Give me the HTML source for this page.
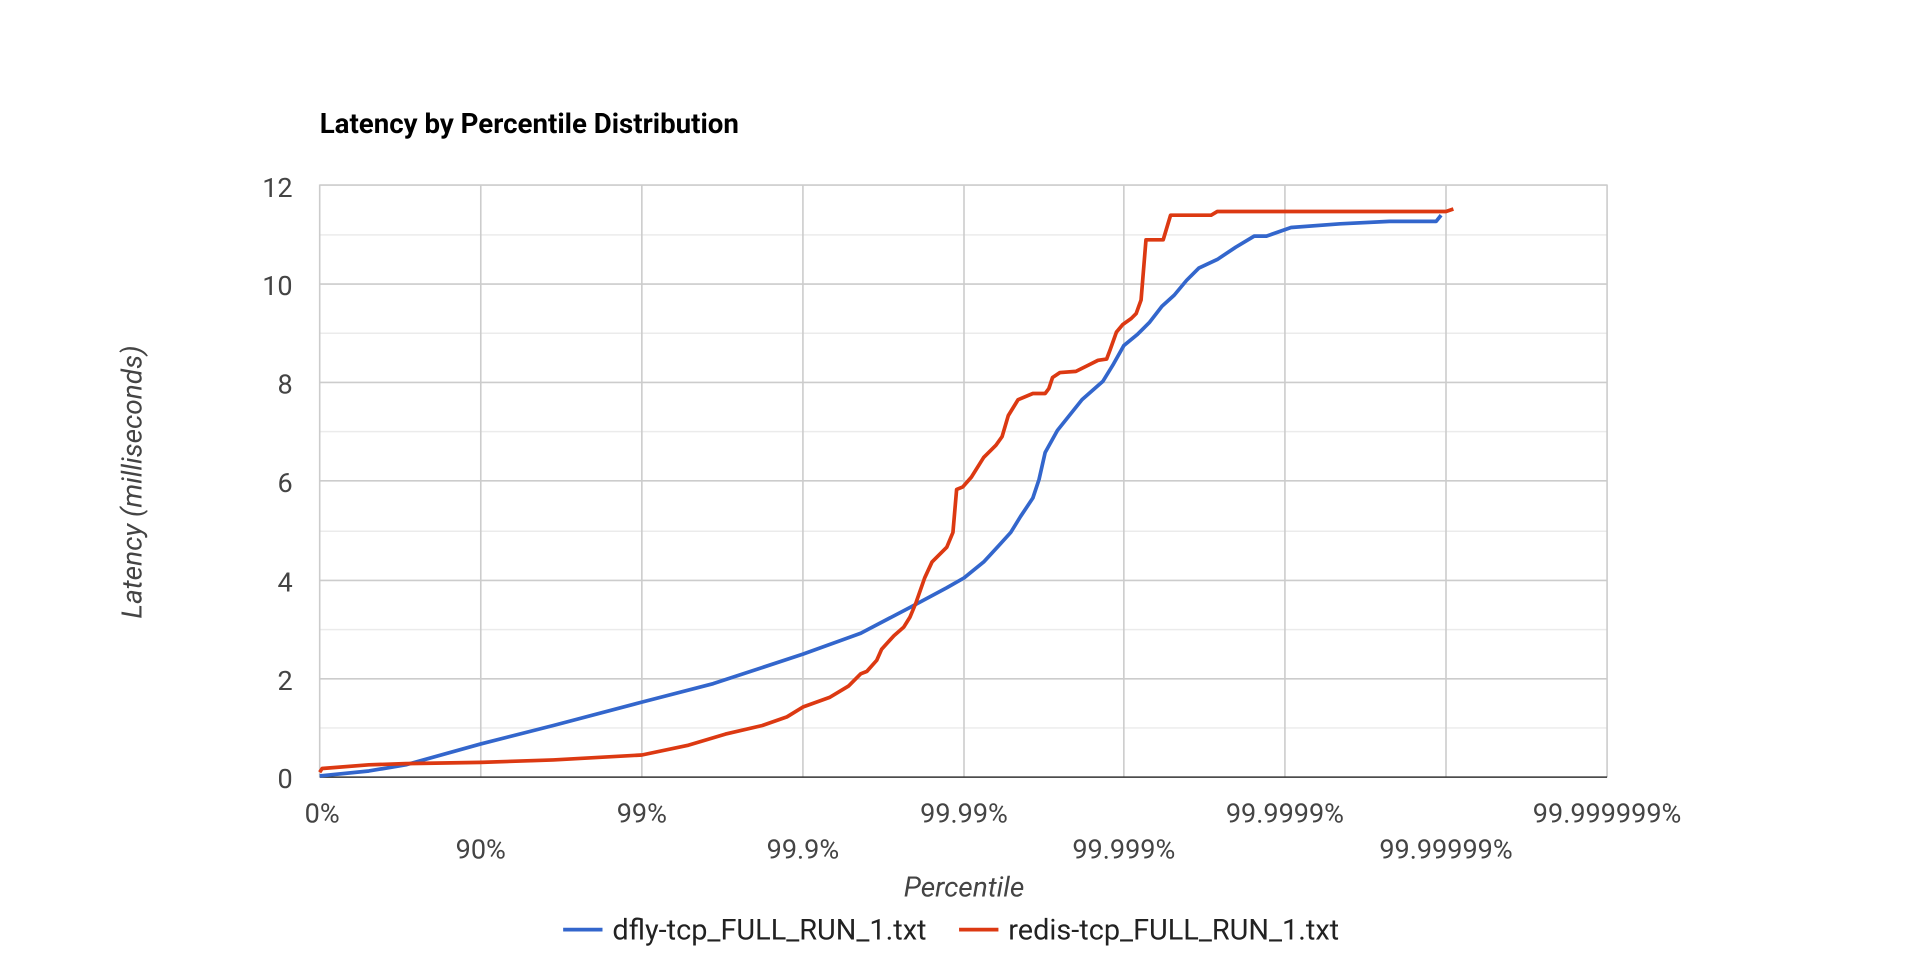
<!DOCTYPE html>
<html><head><meta charset="utf-8"><style>html,body{margin:0;padding:0;background:#fff;}svg{display:block}</style></head>
<body>
<svg width="1928" height="960" viewBox="0 0 1568 780.7" xmlns="http://www.w3.org/2000/svg" font-family="Roboto, 'Liberation Sans', Arial, sans-serif">
<rect width="1568" height="781" fill="#fff"/>
<text x="260" y="108" font-size="22.5" font-weight="bold" fill="#000">Latency by Percentile Distribution</text>
<g stroke="#ebebeb" stroke-width="1.2">
<line x1="260" x2="1307" y1="191" y2="191"/><line x1="260" x2="1307" y1="271" y2="271"/><line x1="260" x2="1307" y1="351" y2="351"/><line x1="260" x2="1307" y1="432" y2="432"/><line x1="260" x2="1307" y1="512" y2="512"/><line x1="260" x2="1307" y1="592" y2="592"/>
</g>
<g stroke="#cccccc" stroke-width="1.3">
<line x1="260" x2="1307" y1="150.5" y2="150.5"/><line x1="260" x2="1307" y1="231" y2="231"/><line x1="260" x2="1307" y1="311" y2="311"/><line x1="260" x2="1307" y1="391" y2="391"/><line x1="260" x2="1307" y1="472" y2="472"/><line x1="260" x2="1307" y1="552" y2="552"/>
<line x1="260" x2="260" y1="150" y2="632"/><line x1="391" x2="391" y1="150" y2="632"/><line x1="522" x2="522" y1="150" y2="632"/><line x1="653" x2="653" y1="150" y2="632"/><line x1="784" x2="784" y1="150" y2="632"/><line x1="914" x2="914" y1="150" y2="632"/><line x1="1045" x2="1045" y1="150" y2="632"/><line x1="1176" x2="1176" y1="150" y2="632"/><line x1="1307" x2="1307" y1="150" y2="632"/>
</g>
<line x1="260" x2="1307" y1="632" y2="632" stroke="#333" stroke-width="1.3"/>
<g font-size="22" fill="#444" text-anchor="end">
<text x="238" y="160">12</text><text x="238" y="240">10</text><text x="238" y="320">8</text><text x="238" y="400">6</text><text x="238" y="481">4</text><text x="238" y="561">2</text><text x="238" y="641">0</text>
</g>
<g font-size="22" fill="#444" text-anchor="middle">
<text x="262" y="669">0%</text><text x="522" y="669">99%</text><text x="784" y="669">99.99%</text><text x="1045" y="669">99.9999%</text><text x="1307" y="669">99.999999%</text>
<text x="391" y="698">90%</text><text x="653" y="698">99.9%</text><text x="914" y="698">99.999%</text><text x="1176" y="698">99.99999%</text>
<text x="784" y="729" font-style="italic" font-size="22.8">Percentile</text>
<text transform="translate(115,392) rotate(-90)" font-style="italic" font-size="22.8">Latency (milliseconds)</text>
</g>
<polyline fill="none" stroke="#3366cc" stroke-width="3" stroke-linejoin="round" points="260,631 300,627 330,622 391,605 450,590 522,571 580,556 653,532 700,515 740,494 770,478 784,470 800,457 812,444 822,433 830,420 840,405 845,390 850,368 860,350 880,325 897,310 905,297 914,281 925,272 935,262 945,249 955,240 965,228 975,218 990,211 1005,201 1020,192 1030,192 1050,185 1090,182 1130,180 1168,180 1172,175"/>
<polyline fill="none" stroke="#dc3912" stroke-width="3" stroke-linejoin="round" points="260,628 262,625 300,622 330,621 391,620 450,618 522,614 560,606 590,597 620,590 640,583 653,575 675,567 690,558 700,548 705,546 713,537 717,528 727,517 735,510 740,502 745,490 752,470 758,457 770,445 775,433 778,398 783,396 790,388 800,372 810,362 815,355 820,338 828,325 840,320 850,320 853,316 856,307 862,303 875,302 885,297 893,293 900,292 903,284 908,270 913,264 920,259 924,255 928,244 932,195 946,195 952,175 985,175 990,172 1176,172 1182,170"/>
<line x1="458" x2="490" y1="756" y2="756" stroke="#3366cc" stroke-width="3"/>
<text x="498" y="764" font-size="23.5" fill="#222">dfly-tcp_FULL_RUN_1.txt</text>
<line x1="780" x2="812" y1="756" y2="756" stroke="#dc3912" stroke-width="3"/>
<text x="820" y="764" font-size="23.5" fill="#222">redis-tcp_FULL_RUN_1.txt</text>
</svg>
</body></html>
